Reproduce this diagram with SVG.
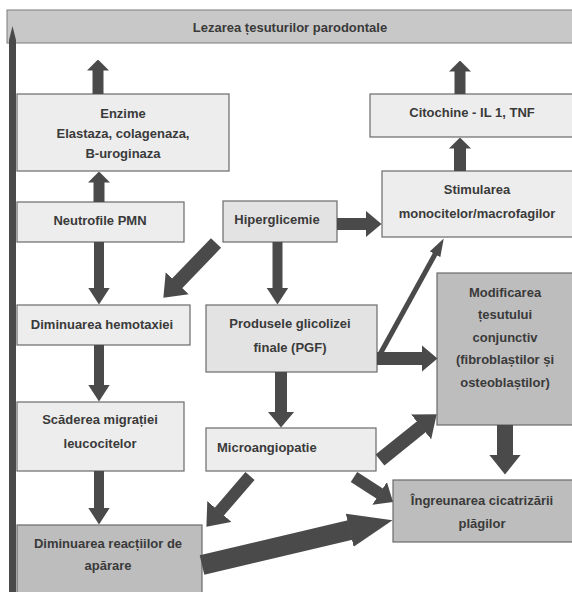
<svg xmlns="http://www.w3.org/2000/svg" width="572" height="592" viewBox="0 0 572 592">
<style>
.box{fill:#ededed;stroke:#6a6a6a;stroke-width:1.2}
.mid{fill:#e3e3e3;stroke:#6a6a6a;stroke-width:1.2}
.dark{fill:#bdbdbd;stroke:#6a6a6a;stroke-width:1.2}
.ban{fill:#c8c8c8;stroke:#7a7a7a;stroke-width:1}
text{font-family:"Liberation Sans",Arial,sans-serif;font-weight:bold;font-size:13px;fill:#3a3a3a;text-anchor:middle}
.c line{stroke:#4a4a4a;fill:none}
.ah{fill:#4a4a4a}
</style>
<defs>
<marker id="m1" markerUnits="userSpaceOnUse" viewBox="0 0 11 22" refX="0.5" refY="11" markerWidth="11" markerHeight="22" orient="auto"><path class="ah" d="M0,0 L11,11 L0,22 z"/></marker>
<marker id="m2" markerUnits="userSpaceOnUse" viewBox="0 0 17 22" refX="0.5" refY="11" markerWidth="17" markerHeight="22" orient="auto"><path class="ah" d="M0,0 L17,11 L0,22 z"/></marker>
<marker id="m3" markerUnits="userSpaceOnUse" viewBox="0 0 16 27" refX="0.5" refY="13.5" markerWidth="16" markerHeight="27" orient="auto"><path class="ah" d="M0,0 L16,13.5 L0,27 z"/></marker>
<marker id="m4" markerUnits="userSpaceOnUse" viewBox="0 0 20 32" refX="0.5" refY="16" markerWidth="20" markerHeight="32" orient="auto"><path class="ah" d="M0,0 L20,16 L0,32 z"/></marker>
<marker id="m5" markerUnits="userSpaceOnUse" viewBox="0 0 44 34" refX="0.5" refY="17" markerWidth="44" markerHeight="34" orient="auto"><path class="ah" d="M0,0 L44,17 L0,34 z"/></marker>
<marker id="m6" markerUnits="userSpaceOnUse" viewBox="0 0 18 12" refX="0.5" refY="6" markerWidth="18" markerHeight="12" orient="auto"><path class="ah" d="M0,0 L18,6 L0,12 z"/></marker>
</defs>
<rect width="572" height="592" fill="#ffffff"/>

<g id="lezarea"><rect class="ban" x="7" y="10" width="570" height="33"/><text x="290" y="31.5">Lezarea țesuturilor parodontale</text></g>
<g id="enzime"><rect class="box" x="17" y="94" width="212" height="77"/><text x="123" y="117.5">Enzime</text><text x="123" y="137.5">Elastaza, colagenaza,</text><text x="123" y="157.5">B-uroginaza</text></g>
<g id="citochine"><rect class="box" x="370" y="94" width="210" height="43"/><text x="472" y="116.5">Citochine - IL 1, TNF</text></g>
<g id="stimularea"><rect class="box" x="382" y="171" width="198" height="66"/><text x="477" y="193.5">Stimularea</text><text x="477" y="217.5">monocitelor/macrofagilor</text></g>
<g id="neutrofile"><rect class="box" x="17" y="202" width="167" height="40"/><text x="100" y="224.5">Neutrofile PMN</text></g>
<g id="hiperglicemie"><rect class="mid" x="223" y="201" width="114" height="41"/><text x="277" y="223.5">Hiperglicemie</text></g>
<g id="hemotaxie"><rect class="box" x="17" y="305" width="173" height="40"/><text x="102" y="328.5">Diminuarea hemotaxiei</text></g>
<g id="produsele"><rect class="mid" x="206" y="305" width="171" height="67"/><text x="290" y="327.5">Produsele glicolizei</text><text x="290" y="351.5">finale (PGF)</text></g>
<g id="modificarea"><rect class="dark" x="437" y="273" width="140" height="152"/><text x="505" y="296.5">Modificarea</text><text x="505" y="319">țesutului</text><text x="505" y="341.5">conjunctiv</text><text x="505" y="364">(fibroblaștilor și</text><text x="505" y="386.5">osteoblaștilor)</text></g>
<g id="scaderea"><rect class="box" x="17" y="402" width="167" height="69"/><text x="100" y="423.5">Scăderea migrației</text><text x="100" y="447.5">leucocitelor</text></g>
<g id="microangiopatie"><rect class="box" x="206" y="428" width="170" height="43"/><text x="217" y="451.5" style="text-anchor:start">Microangiopatie</text></g>
<g id="ingreunarea"><rect class="dark" x="393" y="480" width="184" height="62"/><text x="482" y="504.5">Îngreunarea cicatrizării</text><text x="482" y="527.5">plăgilor</text></g>
<g id="reactii"><rect class="dark" x="17" y="525" width="185" height="75"/><text x="108" y="547.5">Diminuarea reacțiilor de</text><text x="108" y="569.5">apărare</text></g>

<g id="connectors" class="c">
<polygon class="ah" points="9,592 9,40 12.5,26 16,40 16,592"/>
<line x1="98" y1="94" x2="98" y2="70" stroke-width="11" marker-end="url(#m1)"/>
<line x1="99" y1="202" x2="99" y2="182" stroke-width="11" marker-end="url(#m1)"/>
<line x1="460" y1="94" x2="460" y2="71" stroke-width="11" marker-end="url(#m1)"/>
<line x1="460" y1="171" x2="460" y2="148" stroke-width="12" marker-end="url(#m1)"/>
<line x1="99" y1="242" x2="99" y2="288" stroke-width="10" marker-end="url(#m2)"/>
<line x1="99" y1="345" x2="99" y2="385" stroke-width="10" marker-end="url(#m2)"/>
<line x1="99" y1="471" x2="99" y2="508" stroke-width="10" marker-end="url(#m2)"/>
<line x1="277.5" y1="242" x2="277.5" y2="288" stroke-width="10" marker-end="url(#m2)"/>
<line x1="281" y1="372" x2="281" y2="412" stroke-width="12" marker-end="url(#m3)"/>
<line x1="505" y1="425" x2="505" y2="455" stroke-width="16" marker-end="url(#m4)"/>
<line x1="337" y1="224" x2="366" y2="224" stroke-width="12" marker-end="url(#m3)"/>
<line x1="377" y1="358.5" x2="422" y2="358.5" stroke-width="13" marker-end="url(#m3)"/>
<line x1="216" y1="243" x2="176.9" y2="283.6" stroke-width="14" marker-end="url(#m4)"/>
<line x1="379" y1="356" x2="435.3" y2="253.8" stroke-width="5" marker-end="url(#m6)"/>
<line x1="380" y1="460" x2="421.5" y2="426.6" stroke-width="14" marker-end="url(#m4)"/>
<line x1="354" y1="477" x2="380" y2="493.7" stroke-width="12" marker-end="url(#m3)"/>
<line x1="250" y1="476" x2="219.1" y2="511.9" stroke-width="12" marker-end="url(#m4)"/>
<line x1="202" y1="565" x2="350.2" y2="530.1" stroke-width="20" marker-end="url(#m5)"/>
</g>
</svg>
